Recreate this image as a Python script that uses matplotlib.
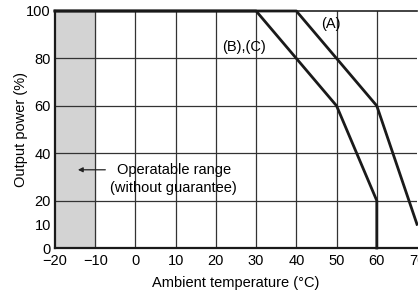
import numpy as np
import matplotlib
matplotlib.use('Agg')
import matplotlib.pyplot as plt

plt.rcParams['font.family'] = ['Liberation Sans', 'DejaVu Sans']

# derating curves
temp_a = [-20, 40, 50, 60, 70]
power_a = [100, 100, 80, 60, 10]
temp_bc = [-20, 30, 40, 50, 60, 60]
power_bc = [100, 100, 80, 60, 20, 0]

x_ticks = [-20, -10, 0, 10, 20, 30, 40, 50, 60, 70]
y_ticks = [0, 10, 20, 40, 60, 80, 100]
y_grid = [20, 40, 60, 80]
shade_range = [-20, -10]

fs = 10.5

fig = plt.figure(figsize=(4.18, 2.95), dpi=100)
ax = fig.add_axes([55/418, 1-248/295, 362/418, 237/295])

ax.axvspan(shade_range[0], shade_range[1], color='#d3d3d3', zorder=0)
for x in x_ticks[1:-1]:
    ax.axvline(x, color='#333333', lw=0.9, zorder=1)
for y in y_grid:
    ax.axhline(y, color='#333333', lw=0.9, zorder=1)

ax.plot(temp_a, power_a, color='#1a1a1a', lw=2, zorder=3, clip_on=False)
ax.plot(temp_bc, power_bc, color='#1a1a1a', lw=2, zorder=3, clip_on=False)

ax.text(48.5, 94.5, '(A)', fontsize=fs, ha='center', va='center')
ax.text(27, 85, '(B),(C)', fontsize=fs, ha='center', va='center')
ax.annotate('', xy=(-15, 33), xytext=(-6.8, 33),
            arrowprops=dict(arrowstyle='-|>', color='#222222', lw=0.9,
                            mutation_scale=7))
ax.text(9.5, 33, 'Operatable range', fontsize=fs, ha='center', va='center')
ax.text(9.5, 25.5, '(without guarantee)', fontsize=fs, ha='center', va='center')

ax.set_xlim(-20, 70)
ax.set_ylim(0, 100)
ax.set_xticks(x_ticks)
ax.set_yticks(y_ticks)
ax.tick_params(length=0, labelsize=fs, pad=3)
ax.tick_params(axis='x', pad=4)
ax.spines['right'].set_visible(False)
ax.spines['top'].set_color('#222222')
ax.spines['top'].set_linewidth(1.2)
for s in ['left', 'bottom']:
    ax.spines[s].set_color('#1a1a1a')
    ax.spines[s].set_linewidth(1.6)

ax.set_xlabel('Ambient temperature (°C)', fontsize=fs, labelpad=6)
ax.set_ylabel('Output power (%)', fontsize=fs, labelpad=-1)

fig.savefig('out.png', dpi=100)
